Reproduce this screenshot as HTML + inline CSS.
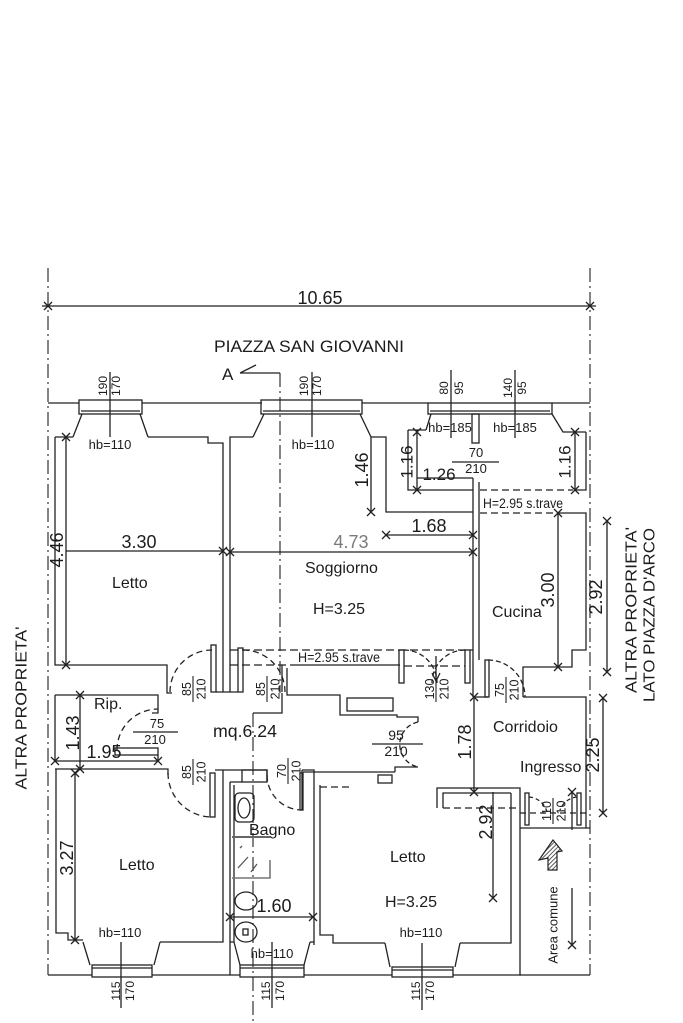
<!DOCTYPE html>
<html><head><meta charset="utf-8">
<style>
html,body{margin:0;padding:0;background:#fff;}
svg{display:block;}
text{font-family:"Liberation Sans",Arial,sans-serif;fill:#1c1c1c;}
</style></head><body>
<svg width="683" height="1023" viewBox="0 0 683 1023" xmlns="http://www.w3.org/2000/svg">
<defs>
<pattern id="hatch" width="3" height="3" patternUnits="userSpaceOnUse" patternTransform="rotate(45)"><line x1="0" y1="0" x2="0" y2="3" stroke="#222" stroke-width="1.5"/></pattern>
</defs>
<rect width="683" height="1023" fill="#fff"/>

<!-- dash-dot axis lines -->
<g fill="none" stroke="#333" stroke-width="1.2" stroke-dasharray="14 4 2 4">
<path d="M48,268 V975"/>
<path d="M590,268 V975"/>
<path d="M280,373 V693"/>
<path d="M253,713 V1022"/>
</g>

<g fill="none" stroke="#222" stroke-width="1.3">
<!-- top dimension -->
<path d="M42,306 H596"/>
<path d="M44,302 L52,310 M44,310 L52,302 M586,302 L594,310 M586,310 L594,302"/>
<!-- section A -->
<path d="M240,373 L256,365 M240,373 H280"/>

<!-- top outer wall -->
<path d="M48,403 H79 M142,403 H262 M362,403 H428 M552,403 H590"/>
<!-- window 1 -->
<rect x="79" y="400" width="63" height="14"/>
<path d="M81,411 H140 M82,414 L73,437 M140,414 L148,437"/>
<!-- window 2 -->
<rect x="261" y="400" width="101" height="14"/>
<path d="M263,411 H360 M264,414 L253,437 M360,414 L371,437"/>
<!-- kitchen window -->
<rect x="428" y="403" width="124" height="11"/>
<path d="M430,411 H550 M431,414 L426,430 M552,414 L563,432 H586"/>
<rect x="472" y="414" width="7" height="29"/>
<!-- window axes -->
<path d="M110,372 V437 M312,372 V437 M451,370 V438 M515,370 V438"/>

<!-- Letto 1 -->
<path d="M55,437 H73 M148,437 H208 V443 H223 V648"/>
<path d="M55,437 V665 H167 V693 H172"/>
<path d="M66,437 V665"/>
<path d="M62,433 L70,441 M62,441 L70,433 M62,661 L70,669 M62,669 L70,661"/>
<path d="M66,551 H223"/>
<path d="M219,547 L227,555 M219,555 L227,547"/>

<!-- Soggiorno -->
<path d="M230,648 V437 H253"/>
<path d="M371,437 H386 V512 H473"/>
<path d="M371,437 V512 M367,508 L375,516 M367,516 L375,508"/>
<path d="M230,552 H473 M226,548 L234,556 M226,556 L234,548 M469,548 L477,556 M469,556 L477,548"/>
<path d="M386,535 H473 M382,531 L390,539 M382,539 L390,531 M469,531 L477,539 M469,539 L477,531"/>

<!-- small top-right room -->
<path d="M408,430 H426 M408,430 V490 H473"/>
<path d="M417,430 V490 M413,428 L421,436 M413,436 L421,428 M413,486 L421,494 M413,494 L421,486"/>
<path d="M417,478 H473 M473,478 V697 M479,482 V660"/>
<path d="M586,432 V490 H575 M575,432 V490"/>
<path d="M571,428 L579,436 M571,436 L579,428 M571,486 L579,494 M571,494 L579,486"/>
<path d="M480,490 H573 M480,513 H560" stroke-dasharray="7 4"/>

<!-- kitchen -->
<path d="M560,513 H586 V650 H572 V667 H523 V697"/>
<path d="M473,697 H488"/>
<rect x="485" y="660" width="4" height="37"/>
<path d="M523,697 H586 V828"/>
<path d="M558,513 V667 M554,509 L562,517 M554,517 L562,509 M554,663 L562,671 M554,671 L562,663"/>
<path d="M607,521 V672 M603,517 L611,525 M603,525 L611,517 M603,668 L611,676 M603,676 L611,668"/>
<path d="M488,660 A37,37 0 0 1 525,697" stroke-dasharray="5 3"/>

<!-- soggiorno bottom -->
<path d="M230,650 H473" stroke-dasharray="8 4"/>
<path d="M230,665 H292 M404,666 H465" stroke-dasharray="8 4"/>
<path d="M292,665 H400"/>
<rect x="211" y="645" width="5" height="47"/>
<rect x="238" y="648" width="5" height="44"/>
<path d="M216,692 H238 M223,648 V692 M230,648 V692"/>
<path d="M170,692 A42,42 0 0 1 212,650" stroke-dasharray="6 4"/>
<path d="M243,650 A42,42 0 0 1 285,692" stroke-dasharray="6 4"/>
<path d="M282,665 V692 M287,668 V695 H340 V715 H397 V717 H418 V722"/>
<rect x="347" y="698" width="46" height="13"/>
<rect x="399" y="650" width="5" height="33"/>
<rect x="465" y="650" width="5" height="33"/>
<path d="M404,650 A33,33 0 0 1 437,683" stroke-dasharray="5 3"/>
<path d="M465,650 A33,33 0 0 0 432,683" stroke-dasharray="5 3"/>
<path d="M436,656 V680 M432,673 L436,681 L440,673"/>
<path d="M282,693 V713 H253"/>

<!-- 95/210 door -->
<path d="M418,722 A23,23 0 0 0 418,767" stroke-dasharray="5 3"/>
<path d="M418,767 H395 V772"/>

<!-- Rip -->
<path d="M55,695 H158 V713 H152"/>
<path d="M55,695 V761"/>
<rect x="115" y="748" width="43" height="7"/>
<path d="M158,755 V761"/>
<path d="M117,750 A41,41 0 0 1 158,709" stroke-dasharray="6 4"/>
<path d="M55,761 H158 M51,757 L59,765 M51,765 L59,757 M154,757 L162,765 M154,765 L162,757"/>
<path d="M55,769 H168 V775"/>
<path d="M80,695 V769 M76,691 L84,699 M76,699 L84,691 M76,765 L84,773 M76,773 L84,765"/>

<!-- Letto 2 -->
<path d="M56,769 V933 H68 V940 H83"/>
<path d="M75,773 V940 M71,769 L79,777 M71,777 L79,769 M71,936 L79,944 M71,944 L79,936"/>
<path d="M223,770 V942 H160"/>
<rect x="210" y="773" width="5" height="44"/>
<path d="M168,773 A44,44 0 0 0 212,817" stroke-dasharray="6 4"/>
<path d="M83,942 L90,965 M160,942 L154,965"/>
<rect x="92" y="965" width="60" height="12"/>
<path d="M92,968 H152"/>

<!-- Bagno -->
<path d="M215,770 H267 V782 M230,782 H242"/>
<rect x="242" y="770" width="25" height="12"/>
<path d="M230,782 V975 M234,785 V942"/>
<path d="M302,770 H314 V945 M302,770 V810"/>
<rect x="300" y="773" width="3" height="37"/>
<path d="M267,775 A35,35 0 0 0 302,810" stroke-dasharray="6 4"/>
<rect x="235" y="793" width="19" height="29" rx="4"/>
<ellipse cx="244" cy="808" rx="6" ry="10"/>
<path d="M232,837 H270" stroke="#666" stroke-width="2"/>
<path d="M270,860 V878 H232" stroke="#777" stroke-width="1.6"/>
<path d="M238,868 L248,857 M251,872 L257,864 M240,848 L242,846" stroke="#555"/>
<ellipse cx="246" cy="901" rx="11" ry="9"/>
<ellipse cx="246" cy="932" rx="11" ry="10"/>
<rect x="243" y="929" width="5" height="6"/>
<path d="M230,917 H313 M226,913 L234,921 M226,921 L234,913 M309,913 L317,921 M309,921 L317,913"/>
<path d="M234,942 L240,965 M310,942 L304,965 M230,942 H234 M310,942 H314"/>
<rect x="240" y="965" width="64" height="12"/>
<path d="M240,968 H304"/>

<!-- Letto 3 -->
<path d="M303,772 H395"/>
<rect x="378" y="775" width="14" height="8"/>
<path d="M320,787 H350" stroke-dasharray="7 4"/>
<path d="M320,785 V935 H333 V943 H385 M460,943 H511 V793"/>
<path d="M385,943 L390,967 M460,943 L455,967"/>
<rect x="392" y="967" width="61" height="10"/>
<path d="M392,970 H453"/>
<path d="M437,808 V788 H520 V975 H590 M443,808 V793 H511"/>
<path d="M443,808 H520" stroke-dasharray="7 4"/>

<!-- corridoio / ingresso -->
<path d="M474,697 V792 M470,693 L478,701 M470,701 L478,693 M470,788 L478,796 M470,796 L478,788"/>
<path d="M493,792 V898 M489,894 L497,902 M489,902 L497,894"/>
<rect x="525" y="793" width="4" height="32"/>
<rect x="577" y="793" width="4" height="32"/>
<path d="M520,828 H590"/>
<path d="M520,813 H590" stroke-dasharray="6 4"/>
<path d="M529,797 A20,20 0 0 1 547,812 M577,797 A20,20 0 0 0 560,810" stroke-dasharray="4 3"/>
<path d="M572,792 V830 M572,888 V945 M568,788 L576,796 M568,796 L576,788 M568,941 L576,949 M568,949 L576,941"/>
<path d="M603,698 V813 M599,694 L607,702 M599,702 L607,694 M599,809 L607,817 M599,817 L607,809"/>

<!-- bottom outer wall -->
<path d="M48,975 H92 M152,975 H240 M304,975 H392 M453,975 H521"/>
<path d="M121,942 V1008 M272,942 V1008 M422,943 V1010"/>
</g>

<!-- hatched arrow -->
<polygon points="553,840 562,851 557,852 557,870 548,870 548,858 539,860" fill="url(#hatch)" stroke="#222" stroke-width="1.2"/>

<!-- texts -->
<text x="320" y="304" font-size="18" text-anchor="middle">10.65</text>
<text x="214" y="352" font-size="16.5" textLength="190" lengthAdjust="spacingAndGlyphs">PIAZZA  SAN GIOVANNI</text>
<text x="222" y="380" font-size="17">A</text>

<g font-size="12" text-anchor="middle" dominant-baseline="central">
<text transform="translate(103,386) rotate(-90)">190</text>
<text transform="translate(116,386) rotate(-90)">170</text>
<text transform="translate(304,386) rotate(-90)">190</text>
<text transform="translate(317,386) rotate(-90)">170</text>
<text transform="translate(444,388) rotate(-90)">80</text>
<text transform="translate(459,388) rotate(-90)">95</text>
<text transform="translate(508,388) rotate(-90)">140</text>
<text transform="translate(522,388) rotate(-90)">95</text>
<text transform="translate(116,991) rotate(-90)">115</text>
<text transform="translate(130,991) rotate(-90)">170</text>
<text transform="translate(266,991) rotate(-90)">115</text>
<text transform="translate(280,991) rotate(-90)">170</text>
<text transform="translate(416,991) rotate(-90)">115</text>
<text transform="translate(430,991) rotate(-90)">170</text>
</g>

<g font-size="13" text-anchor="middle">
<text x="110" y="449">hb=110</text>
<text x="313" y="449">hb=110</text>
<text x="450" y="432">hb=185</text>
<text x="515" y="432">hb=185</text>
<text x="120" y="937">hb=110</text>
<text x="272" y="958">hb=110</text>
<text x="421" y="937">hb=110</text>
</g>

<!-- dimension numbers -->
<g font-size="18" text-anchor="middle" dominant-baseline="central">
<text transform="translate(362,470) rotate(-90)">1.46</text>
<text transform="translate(407,462) rotate(-90)" font-size="17">1.16</text>
<text transform="translate(565,462) rotate(-90)" font-size="17">1.16</text>
<text transform="translate(57,550) rotate(-90)">4.46</text>
<text transform="translate(548,590) rotate(-90)">3.00</text>
<text transform="translate(596,597) rotate(-90)">2.92</text>
<text transform="translate(73,733) rotate(-90)">1.43</text>
<text transform="translate(465,742) rotate(-90)">1.78</text>
<text transform="translate(593,755) rotate(-90)">2.25</text>
<text transform="translate(486,822) rotate(-90)">2.92</text>
<text transform="translate(67,858) rotate(-90)">3.27</text>
</g>
<text x="139" y="548" font-size="18" text-anchor="middle">3.30</text>
<text x="351" y="548" font-size="18" text-anchor="middle" style="fill:#7a7a7a">4.73</text>
<text x="429" y="532" font-size="18" text-anchor="middle">1.68</text>
<text x="439" y="480" font-size="17" text-anchor="middle">1.26</text>
<text x="104" y="758" font-size="18" text-anchor="middle">1.95</text>
<text x="274" y="912" font-size="18" text-anchor="middle">1.60</text>

<!-- horizontal fractions -->
<g font-size="13" text-anchor="middle">
<text x="476" y="457">70</text>
<text x="476" y="473">210</text>
<text x="157" y="728">75</text>
<text x="155" y="744">210</text>
<text x="396" y="740" font-size="14">95</text>
<text x="396" y="756" font-size="14">210</text>
</g>
<g stroke="#222" stroke-width="1.2">
<line x1="452" y1="462" x2="499" y2="462"/>
<line x1="133" y1="732" x2="178" y2="732"/>
<line x1="372" y1="744" x2="423" y2="744"/>
</g>

<!-- rotated fractions -->
<g font-size="12.5" text-anchor="middle">
<g transform="translate(193,689) rotate(-90)"><text y="-2">85</text><line x1="-13" y1="0" x2="13" y2="0" stroke="#222" stroke-width="1.1"/><text y="12.5">210</text></g>
<g transform="translate(267,689) rotate(-90)"><text y="-2">85</text><line x1="-13" y1="0" x2="13" y2="0" stroke="#222" stroke-width="1.1"/><text y="12.5">210</text></g>
<g transform="translate(193,772) rotate(-90)"><text y="-2">85</text><line x1="-13" y1="0" x2="13" y2="0" stroke="#222" stroke-width="1.1"/><text y="12.5">210</text></g>
<g transform="translate(288,771) rotate(-90)"><text y="-2">70</text><line x1="-13" y1="0" x2="13" y2="0" stroke="#222" stroke-width="1.1"/><text y="12.5">210</text></g>
<g transform="translate(436,689) rotate(-90)"><text y="-2">130</text><line x1="-13" y1="0" x2="13" y2="0" stroke="#222" stroke-width="1.1"/><text y="12.5">210</text></g>
<g transform="translate(506,690) rotate(-90)"><text y="-2">75</text><line x1="-13" y1="0" x2="13" y2="0" stroke="#222" stroke-width="1.1"/><text y="12.5">210</text></g>
<g transform="translate(553,811) rotate(-90)"><text y="-2">110</text><line x1="-13" y1="0" x2="13" y2="0" stroke="#222" stroke-width="1.1"/><text y="12.5">210</text></g>
</g>

<!-- beam labels -->
<text x="483" y="508" font-size="13.5" textLength="80" lengthAdjust="spacingAndGlyphs">H=2.95 s.trave</text>
<text x="298" y="662" font-size="13.5" textLength="82" lengthAdjust="spacingAndGlyphs">H=2.95 s.trave</text>

<!-- room labels -->
<g font-size="16">
<text x="112" y="588">Letto</text>
<text x="305" y="573">Soggiorno</text>
<text x="313" y="614">H=3.25</text>
<text x="492" y="617">Cucina</text>
<text x="94" y="709">Rip.</text>
<text x="213" y="737" font-size="17.5" textLength="64" lengthAdjust="spacingAndGlyphs">mq.6.24</text>
<text x="493" y="732">Corridoio</text>
<text x="520" y="772">Ingresso</text>
<text x="249" y="835">Bagno</text>
<text x="119" y="870">Letto</text>
<text x="390" y="862">Letto</text>
<text x="385" y="907">H=3.25</text>
</g>
<text transform="translate(553,925) rotate(-90)" font-size="13" text-anchor="middle" dominant-baseline="central">Area comune</text>

<!-- side labels -->
<g font-size="16" text-anchor="middle" dominant-baseline="central">
<text transform="translate(632,610) rotate(-90)" textLength="166" lengthAdjust="spacingAndGlyphs">ALTRA PROPRIETA'</text>
<text transform="translate(650,615) rotate(-90)" textLength="174" lengthAdjust="spacingAndGlyphs">LATO PIAZZA D'ARCO</text>
<text transform="translate(22,708) rotate(-90)" textLength="163" lengthAdjust="spacingAndGlyphs">ALTRA PROPRIETA'</text>
</g>
</svg>
</body></html>
